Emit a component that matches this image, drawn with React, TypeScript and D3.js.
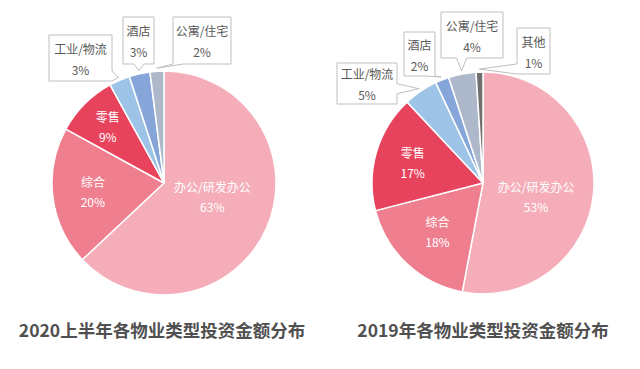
import React from "react";
import * as d3 from "d3";

// ---- data ----
const categories2020 = ["办公/研发办公", "综合", "零售", "工业/物流", "酒店", "公寓/住宅"];
const values2020 = [63, 20, 9, 3, 3, 2];
const categories2019 = ["办公/研发办公", "综合", "零售", "工业/物流", "酒店", "公寓/住宅", "其他"];
const values2019 = [53, 18, 17, 5, 2, 4, 1];
const title2020 = "2020上半年各物业类型投资金额分布";
const title2019 = "2019年各物业类型投资金额分布";

// ---- style / layout ----
const COLORS: Record<string, string> = {
  "办公/研发办公": "#F5AEB9",
  "综合": "#EF7F8F",
  "零售": "#E8435C",
  "工业/物流": "#9DC3E6",
  "酒店": "#86A6DA",
  "公寓/住宅": "#ADB9CA",
  "其他": "#6F6F6F",
};
const FONT = "'Noto Sans CJK SC', 'Noto Sans', sans-serif";

type Box = { x: number; y: number; w: number; h: number };
type ChartLayout = {
  cx: number;
  cy: number;
  r: number;
  inside: number; // number of slices labelled inside
  labelR: number[];
  labelDy: number[];
  boxes: Box[];
  titleX: number;
  titleY: number;
};

const layout2020: ChartLayout = {
  cx: 164, cy: 183, r: 112, inside: 3,
  labelR: [0.47, 0.64, 0.71], labelDy: [-7, 0, 0],
  boxes: [
    { x: 49, y: 35, w: 63, h: 46 },
    { x: 123, y: 17, w: 31, h: 47 },
    { x: 173, y: 17, w: 58, h: 47 },
  ],
  titleX: 162, titleY: 329,
};
const layout2019: ChartLayout = {
  cx: 483, cy: 183, r: 111, inside: 3,
  labelR: [0.48, 0.6, 0.66], labelDy: [8, 0, 0],
  boxes: [
    { x: 337, y: 63, w: 60, h: 41 },
    { x: 404, y: 32, w: 31, h: 44 },
    { x: 441, y: 12, w: 62, h: 46 },
    { x: 517, y: 28, w: 33, h: 46 },
  ],
  titleX: 483, titleY: 329,
};

function calloutPath(b: Box, tx: number, ty: number): string {
  const x1 = b.x, y1 = b.y, x2 = b.x + b.w, y2 = b.y + b.h;
  const hw = 5;
  const pts: [number, number][] = [[x1, y1], [x2, y1]];
  if (ty > y2) {
    const c = Math.max(x1 + hw, Math.min(x2 - hw, tx));
    pts.push([x2, y2], [c + hw, y2], [tx, ty], [c - hw, y2], [x1, y2]);
  } else if (tx > x2) {
    const c = Math.max(y1 + hw, Math.min(y2 - hw, ty));
    pts.push([x2, c - hw], [tx, ty], [x2, c + hw], [x2, y2], [x1, y2]);
  } else {
    const c = Math.max(y1 + hw, Math.min(y2 - hw, ty));
    pts.push([x2, y2], [x1, y2], [x1, c + hw], [tx, ty], [x1, c - hw]);
  }
  return "M" + pts.map((p) => p.join(",")).join("L") + "Z";
}

function PieChart({ cats, vals, L, title }: { cats: string[]; vals: number[]; L: ChartLayout; title: string }) {
  const total = d3.sum(vals);
  const pie = d3.pie<number>().sort(null).value((d) => d).startAngle(0).endAngle(2 * Math.PI);
  const arcs = pie(vals);
  const arc = d3.arc<d3.PieArcDatum<number>>().innerRadius(0).outerRadius(L.r);
  const pct = (v: number) => `${Math.round((v / total) * 100)}%`;

  return (
    <g>
      <g transform={`translate(${L.cx},${L.cy})`}>
        {arcs.map((a, i) => (
          <path key={i} d={arc(a) as string} fill={COLORS[cats[i]]} stroke="#ffffff" strokeWidth={1.5} strokeLinejoin="round" />
        ))}
        {arcs.slice(0, L.inside).map((a, i) => {
          const m = (a.startAngle + a.endAngle) / 2;
          const d = L.labelR[i] * L.r;
          const x = Math.sin(m) * d;
          const y = -Math.cos(m) * d + L.labelDy[i];
          return (
            <g key={"l" + i} fontFamily={FONT} fontSize={12} fill="#ffffff" textAnchor="middle">
              <text x={x} y={y - 10} dominantBaseline="central">{cats[i]}</text>
              <text x={x} y={y + 10} dominantBaseline="central">{pct(vals[i])}</text>
            </g>
          );
        })}
      </g>
      {arcs.slice(L.inside).map((a, j) => {
        const i = j + L.inside;
        const b = L.boxes[j];
        const m = (a.startAngle + a.endAngle) / 2;
        const tr = L.r + 3;
        const tx = L.cx + Math.sin(m) * tr;
        const ty = L.cy - Math.cos(m) * tr;
        const bcx = b.x + b.w / 2;
        const bcy = b.y + b.h / 2;
        return (
          <g key={"c" + i}>
            <path d={calloutPath(b, tx, ty)} fill="#ffffff" stroke="#BFBFBF" strokeWidth={1} />
            <g fontFamily={FONT} fontSize={12} fill="#595959" textAnchor="middle">
              <text x={bcx} y={bcy - 10} dominantBaseline="central">{cats[i]}</text>
              <text x={bcx} y={bcy + 11} dominantBaseline="central">{pct(vals[i])}</text>
            </g>
          </g>
        );
      })}
      <text x={L.titleX} y={L.titleY} textAnchor="middle" dominantBaseline="central" fontFamily={FONT} fontWeight="bold" fontSize={17.5} fill="#505050">
        {title}
      </text>
    </g>
  );
}

export default function App() {
  return (
    <svg width={640} height={369} style={{ position: "absolute", left: 0, top: 0, background: "#ffffff" }}>
      <rect x={0} y={0} width={640} height={369} fill="#ffffff" />
      <PieChart cats={categories2020} vals={values2020} L={layout2020} title={title2020} />
      <PieChart cats={categories2019} vals={values2019} L={layout2019} title={title2019} />
    </svg>
  );
}
